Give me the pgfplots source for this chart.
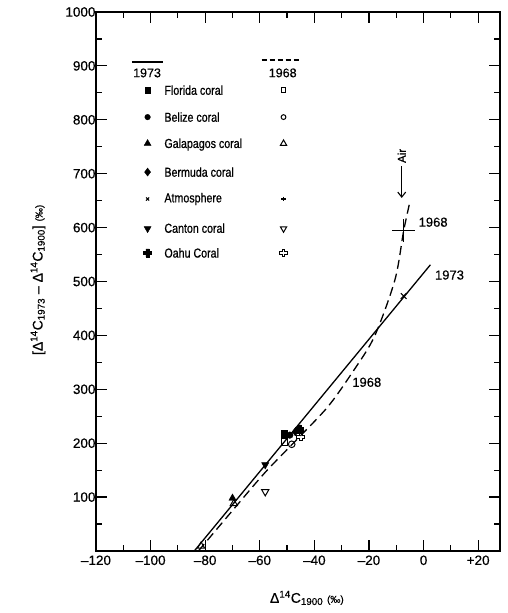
\documentclass[border=0pt]{standalone}
\usepackage{pgfplots}
\pgfplotsset{compat=1.18}
\usepackage{fontspec}
\setmainfont{Liberation Sans}[FakeBold=0.5]
\newfontfamily\condfont{Liberation Sans}[FakeStretch=0.82,FakeBold=0.8]
\usetikzlibrary{calc,arrows.meta}
\pgfdeclareplotmark{ocross}{%
  \pgfpathmoveto{\pgfqpoint{-0.38\pgfplotmarksize}{\pgfplotmarksize}}%
  \pgfpathlineto{\pgfqpoint{0.38\pgfplotmarksize}{\pgfplotmarksize}}%
  \pgfpathlineto{\pgfqpoint{0.38\pgfplotmarksize}{0.38\pgfplotmarksize}}%
  \pgfpathlineto{\pgfqpoint{\pgfplotmarksize}{0.38\pgfplotmarksize}}%
  \pgfpathlineto{\pgfqpoint{\pgfplotmarksize}{-0.38\pgfplotmarksize}}%
  \pgfpathlineto{\pgfqpoint{0.38\pgfplotmarksize}{-0.38\pgfplotmarksize}}%
  \pgfpathlineto{\pgfqpoint{0.38\pgfplotmarksize}{-\pgfplotmarksize}}%
  \pgfpathlineto{\pgfqpoint{-0.38\pgfplotmarksize}{-\pgfplotmarksize}}%
  \pgfpathlineto{\pgfqpoint{-0.38\pgfplotmarksize}{-0.38\pgfplotmarksize}}%
  \pgfpathlineto{\pgfqpoint{-\pgfplotmarksize}{-0.38\pgfplotmarksize}}%
  \pgfpathlineto{\pgfqpoint{-\pgfplotmarksize}{0.38\pgfplotmarksize}}%
  \pgfpathlineto{\pgfqpoint{-0.38\pgfplotmarksize}{0.38\pgfplotmarksize}}%
  \pgfpathclose\pgfusepathqstroke}
\pgfdeclareplotmark{fcross}{%
  \pgfpathmoveto{\pgfqpoint{-0.42\pgfplotmarksize}{\pgfplotmarksize}}%
  \pgfpathlineto{\pgfqpoint{0.42\pgfplotmarksize}{\pgfplotmarksize}}%
  \pgfpathlineto{\pgfqpoint{0.42\pgfplotmarksize}{0.42\pgfplotmarksize}}%
  \pgfpathlineto{\pgfqpoint{\pgfplotmarksize}{0.42\pgfplotmarksize}}%
  \pgfpathlineto{\pgfqpoint{\pgfplotmarksize}{-0.42\pgfplotmarksize}}%
  \pgfpathlineto{\pgfqpoint{0.42\pgfplotmarksize}{-0.42\pgfplotmarksize}}%
  \pgfpathlineto{\pgfqpoint{0.42\pgfplotmarksize}{-\pgfplotmarksize}}%
  \pgfpathlineto{\pgfqpoint{-0.42\pgfplotmarksize}{-\pgfplotmarksize}}%
  \pgfpathlineto{\pgfqpoint{-0.42\pgfplotmarksize}{-0.42\pgfplotmarksize}}%
  \pgfpathlineto{\pgfqpoint{-\pgfplotmarksize}{-0.42\pgfplotmarksize}}%
  \pgfpathlineto{\pgfqpoint{-\pgfplotmarksize}{0.42\pgfplotmarksize}}%
  \pgfpathlineto{\pgfqpoint{-0.42\pgfplotmarksize}{0.42\pgfplotmarksize}}%
  \pgfpathclose\pgfusepathqfillstroke}
\begin{document}
\begin{tikzpicture}
\begin{axis}[
  scale only axis, width=404pt, height=539pt,
  xmin=-120, xmax=28, ymin=0, ymax=1000,
  xtick={-120,-100,-80,-60,-40,-20,0,20},
  xticklabels={–120,–100,–80,–60,–40,–20,0,+20},
  minor xtick={-110,-90,-70,-50,-30,-10,10},
  ytick={100,200,300,400,500,600,700,800,900,1000},
  yticklabels={100,200,300,400,500,600,700,800,900,1000},
  minor ytick={50,150,250,350,450,550,650,750,850,950},
  tick align=inside, tick pos=both,
  major tick length=11pt, minor tick length=6pt,
  every tick/.style={black, line width=1.2pt},
  axis line style={line width=1.6pt},
  ticklabel style={font=\fontsize{13.5}{15}\selectfont},
  xticklabel style={yshift=-1pt},
  yticklabel style={xshift=3pt},
  clip=false,
  xlabel={Δ\textsuperscript{14}C\textsubscript{1900} {\fontsize{10}{12}\selectfont(‰)}},
  xlabel style={at={(axis description cs:0.522,-0.087)}, anchor=center, font=\fontsize{14}{16}\selectfont},
  ylabel={[Δ\textsuperscript{14}C\textsubscript{1973} – Δ\textsuperscript{14}C\textsubscript{1900}] {\fontsize{10}{12}\selectfont(‰)}},
  ylabel style={at={(axis description cs:-0.1436,0.503)}, anchor=center, font=\fontsize{14}{16}\selectfont},
]
% 1973 line
\addplot[black, line width=1.3pt] coordinates {(-84,0) (2.5,531)};
% 1968 curve
\addplot[black, line width=1.3pt, dash pattern=on 9pt off 5pt, smooth, tension=0.5] coordinates {
 (-82.5,0) (-70,75) (-58,146) (-46,209) (-35,268) (-26,332) (-18,398) (-10.5,503) (-7.3,594) (-5,648)};
% data points 1973 (filled)
\addplot[only marks, mark=square*, mark size=3.3pt, black] coordinates {(-51,218)};
\addplot[only marks, mark=*, mark size=3.3pt, black] coordinates {(-49,215)};
\addplot[only marks, mark=diamond*, mark size=4pt, black] coordinates {(-47,221)};
\addplot[only marks, mark=fcross, mark size=4.2pt, black] coordinates {(-45.5,226)};
\addplot[only marks, mark=triangle*, mark size=4.2pt, black] coordinates {(-70,98)};
\addplot[only marks, mark=triangle*, mark size=4.2pt, black, mark options={rotate=180}] coordinates {(-58,160)};
\addplot[only marks, mark=x, mark size=4pt, black, line width=1.1pt] coordinates {(-7.3,473)};
% data points 1968 (open)
\addplot[only marks, mark=square, mark size=3.3pt, black, line width=1pt, mark options={fill=white}] coordinates {(-51,202)};
\addplot[only marks, mark=o, mark size=3.3pt, black, line width=1pt, mark options={fill=white}] coordinates {(-48.3,198)};
\addplot[only marks, mark=ocross, mark size=3.8pt, black, line width=0.9pt] coordinates {(-45,212)};
\addplot[only marks, mark=triangle, mark size=4.2pt, black, line width=1pt, mark options={fill=white}] coordinates {(-69.5,88) (-81.5,9)};
\addplot[only marks, mark=triangle, mark size=4.2pt, black, line width=1pt, mark options={rotate=180, fill=white}] coordinates {(-58,110)};
\addplot[only marks, mark=+, mark size=11.5pt, black, line width=1.2pt] coordinates {(-7.3,594)};
% curve labels
\node[font=\fontsize{13}{15}\selectfont] at (axis cs:3.5,610) {1968};
\node[font=\fontsize{13}{15}\selectfont] at (axis cs:9.5,512) {1973};
\node[font=\fontsize{13}{15}\selectfont] at (axis cs:-20.8,313) {1968};
\node[font=\fontsize{11.5}{13}\selectfont, rotate=90] at (axis cs:-8,733) {Air};
\draw[-{Straight Barb[length=5pt,width=8pt]}, line width=1.1pt] (axis cs:-8,714) -- (axis cs:-8,655);
% legend header
\draw[line width=1.4pt] (axis cs:-106.9,907) -- (axis cs:-95.6,907);
\draw[line width=1.4pt, dash pattern=on 5pt off 3pt] (axis cs:-59.3,911) -- (axis cs:-45.1,911);
\node[font=\fontsize{12.5}{14}\selectfont] at (axis cs:-101.3,887) {1973};
\node[font=\fontsize{12.5}{14}\selectfont] at (axis cs:-51.6,887) {1968};
% legend symbols
\addplot[only marks, mark=square*, mark size=2.6pt, black] coordinates {(-101.1,855)};
\addplot[only marks, mark=*, mark size=2.8pt, black] coordinates {(-101.1,805)};
\addplot[only marks, mark=triangle*, mark size=4pt, black] coordinates {(-101.1,756)};
\addplot[only marks, mark=diamond*, mark size=4pt, black] coordinates {(-101.1,703)};
\addplot[only marks, mark=x, mark size=2.2pt, black, line width=1pt] coordinates {(-101.1,653)};
\addplot[only marks, mark=triangle*, mark size=4pt, black, mark options={rotate=180}] coordinates {(-101.1,598)};
\addplot[only marks, mark=fcross, mark size=4pt, black] coordinates {(-101.1,553)};
\addplot[only marks, mark=square, mark size=2.4pt, black, line width=1pt] coordinates {(-51.3,855)};
\addplot[only marks, mark=o, mark size=2.4pt, black, line width=1pt] coordinates {(-51.3,805)};
\addplot[only marks, mark=triangle, mark size=3.6pt, black, line width=1pt] coordinates {(-51.3,756)};
\addplot[only marks, mark=+, mark size=2.4pt, black, line width=1.1pt] coordinates {(-51.3,653)};
\addplot[only marks, mark=triangle, mark size=3.6pt, black, line width=1pt, mark options={rotate=180}] coordinates {(-51.3,598)};
\addplot[only marks, mark=ocross, mark size=3.6pt, black, line width=0.9pt] coordinates {(-51.3,553)};
% legend texts
\begin{scope}[every node/.style={anchor=west, font=\condfont\fontsize{13}{15}\selectfont, inner sep=0pt}]
\node at (axis cs:-95,855) {Florida coral};
\node at (axis cs:-95,805) {Belize coral};
\node at (axis cs:-95,754) {Galapagos coral};
\node at (axis cs:-95,703) {Bermuda coral};
\node at (axis cs:-95,653) {Atmosphere};
\node at (axis cs:-95,599) {Canton coral};
\node at (axis cs:-95,553) {Oahu Coral};
\end{scope}
\end{axis}
\pgfresetboundingbox
\path ($(current axis.south west)+(-96pt,-62pt)$) rectangle ($(current axis.north east)+(8pt,12pt)$);
\end{tikzpicture}
\end{document}
